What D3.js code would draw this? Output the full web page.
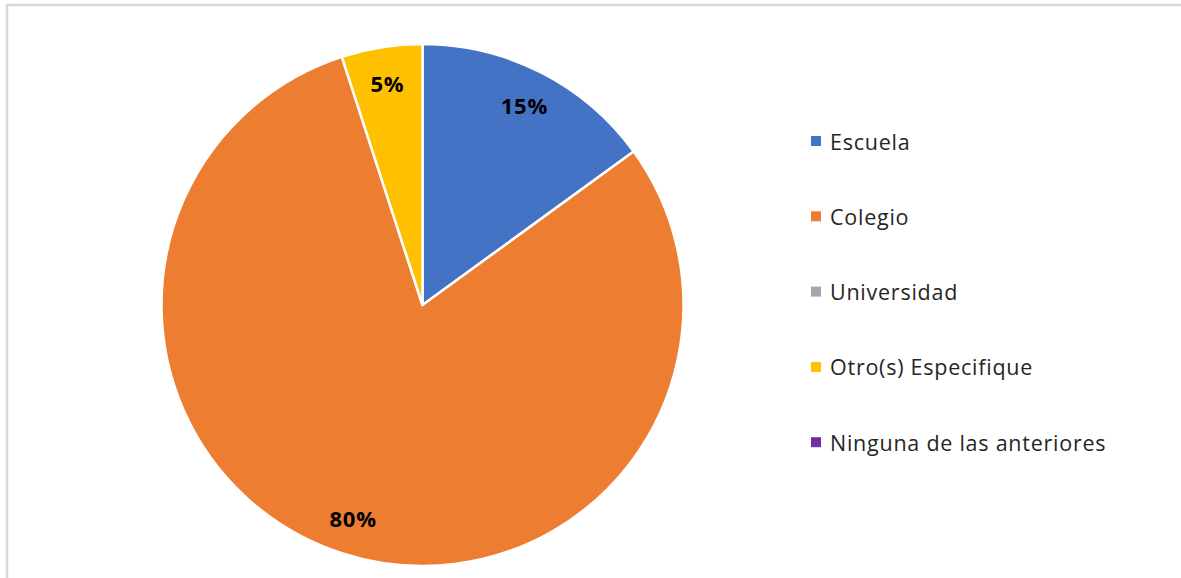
<!DOCTYPE html>
<html>
<head>
<meta charset="utf-8">
<script src="https://cdn.jsdelivr.net/npm/d3@7"></script>
<style>
  html, body { margin: 0; padding: 0; background: #fff; }
  svg { display: block; }
</style>
</head>
<body>
<svg id="chart" width="1181" height="578"></svg>
<script>
// Source data: share of responses per category
const categories = ["Escuela", "Colegio", "Universidad", "Otro(s) Especifique", "Ninguna de las anteriores"];
const values = [15, 80, 0, 5, 0];
const colors = ["#4472C4", "#ED7D31", "#A5A5A5", "#FFC000", "#7030A0"];

const W = 1181, H = 578;
const svg = d3.select("#chart");

// Frame around the chart area
svg.append("rect")
  .attr("x", 7).attr("y", 5)
  .attr("width", W + 10).attr("height", H + 10)
  .attr("fill", "#fff")
  .attr("stroke", "#d9d9d9")
  .attr("stroke-width", 2.5);

const cx = 422.5, cy = 305, R = 261;
const data = categories.map((c, i) => ({ name: c, value: values[i], color: colors[i] }));

const pie = d3.pie().sort(null).value(d => d.value);
const arcs = pie(data);
const arc = d3.arc().innerRadius(0).outerRadius(R);
const labelArc = d3.arc().innerRadius(R * 0.86).outerRadius(R * 0.86);

const g = svg.append("g").attr("transform", `translate(${cx},${cy})`);

g.selectAll("path.slice")
  .data(arcs.filter(a => a.data.value > 0))
  .join("path")
  .attr("class", "slice")
  .attr("d", arc)
  .attr("fill", d => d.data.color)
  .attr("stroke", "#fff")
  .attr("stroke-width", 2.5)
  .attr("stroke-linejoin", "round");

const total = d3.sum(values);
g.selectAll("text.pct")
  .data(arcs.filter(a => a.data.value > 0))
  .join("text")
  .attr("class", "pct")
  .attr("transform", d => `translate(${labelArc.centroid(d)})`)
  .attr("text-anchor", "middle")
  .attr("dominant-baseline", "central")
  .attr("font-family", "'Open Sans', 'Noto Sans', sans-serif")
  .attr("font-weight", "bold")
  .attr("font-size", 22)
  .attr("letter-spacing", 0.8)
  .attr("fill", "#000")
  .text(d => Math.round(d.data.value / total * 100) + "%");

// Legend
const legend = svg.append("g").attr("transform", "translate(811,141)");
const rowStep = 75.3;
const items = legend.selectAll("g.item")
  .data(data)
  .join("g")
  .attr("class", "item")
  .attr("transform", (d, i) => `translate(0,${i * rowStep})`);

items.append("rect")
  .attr("x", 0).attr("y", -5)
  .attr("width", 10).attr("height", 10)
  .attr("fill", d => d.color);

items.append("text")
  .attr("x", 19).attr("y", 0)
  .attr("dominant-baseline", "central")
  .attr("font-family", "'Open Sans', 'Noto Sans', sans-serif")
  .attr("font-size", 21.5)
  .attr("letter-spacing", 0.75)
  .attr("fill", "#262626")
  .text(d => d.name);
</script>
</body>
</html>
